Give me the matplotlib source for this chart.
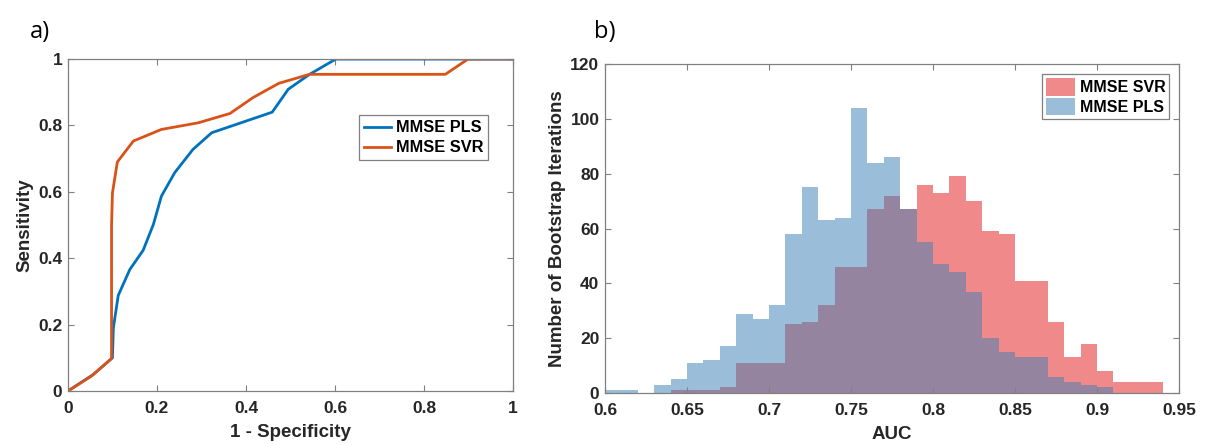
import numpy as np
import matplotlib
matplotlib.use("Agg")
import matplotlib.pyplot as plt

# ROC curves (1 - specificity, sensitivity)
pls_fpr = [0.0, 0.057, 0.1, 0.102, 0.113, 0.139, 0.169, 0.192, 0.21, 0.24,
           0.281, 0.323, 0.459, 0.495, 0.543, 0.602, 1.0]
pls_tpr = [0.0, 0.05, 0.1, 0.19, 0.288, 0.366, 0.424, 0.502, 0.587, 0.658,
           0.728, 0.778, 0.84, 0.909, 0.954, 1.0, 1.0]
svr_fpr = [0.0, 0.053, 0.098, 0.098, 0.1, 0.111, 0.147, 0.21, 0.293, 0.364,
           0.416, 0.474, 0.543, 0.848, 0.899, 1.0]
svr_tpr = [0.0, 0.045, 0.098, 0.5, 0.597, 0.69, 0.753, 0.788, 0.808, 0.836,
           0.884, 0.927, 0.954, 0.954, 1.0, 1.0]

# Bootstrap AUC histograms, bins of width 0.01 starting at 0.60
bin_left = np.round(np.arange(0.60, 0.94, 0.01), 2)
pls_counts = [1, 1, 0, 3, 5, 11, 12, 17, 29, 27, 32, 58, 75, 63, 64, 104, 84,
              86, 67, 55, 47, 44, 37, 20, 15, 13, 13, 6, 4, 3, 2, 0, 0, 0]
svr_counts = [0, 0, 0, 0, 1, 1, 1, 2, 11, 11, 11, 25, 26, 32, 46, 46, 67,
              72, 67, 76, 73, 79, 70, 59, 58, 41, 41, 26, 13, 18, 8, 4, 4, 4]

plt.rcParams["font.family"] = ["Liberation Sans", "DejaVu Sans"]
plt.rcParams["font.weight"] = "bold"
plt.rcParams["axes.labelweight"] = "bold"

fig = plt.figure(figsize=(12.07, 4.45), dpi=100)
ax1 = fig.add_axes([0.0563, 0.1213, 0.3687, 0.746])
ax2 = fig.add_axes([0.5012, 0.1169, 0.4756, 0.739])

spine_col = "#808080"
text_col = "#262626"

# a) ROC curves
ax1.plot(pls_fpr, pls_tpr, color="#0072BD", lw=2.0, label="MMSE PLS")
ax1.plot(svr_fpr, svr_tpr, color="#D95319", lw=2.0, label="MMSE SVR")
ax1.set_xlim(0, 1)
ax1.set_ylim(0, 1)
ax1.set_xticks([0, 0.2, 0.4, 0.6, 0.8, 1])
ax1.set_xticklabels(["0", "0.2", "0.4", "0.6", "0.8", "1"])
ax1.set_yticks([0, 0.2, 0.4, 0.6, 0.8, 1])
ax1.set_yticklabels(["0", "0.2", "0.4", "0.6", "0.8", "1"])
ax1.set_xlabel("1 - Specificity", fontsize=13.5, color=text_col, labelpad=6)
ax1.set_ylabel("Sensitivity", fontsize=13.5, color=text_col, labelpad=3)
leg1 = ax1.legend(loc="upper right", bbox_to_anchor=(0.945, 0.83),
                  fontsize=11.8, frameon=True, fancybox=False,
                  handlelength=1.65, borderpad=0.3, labelspacing=0.3,
                  handletextpad=0.3, borderaxespad=0)
leg1.get_frame().set_edgecolor("#606060")
leg1.get_frame().set_linewidth(0.9)

# b) AUC histograms
overlap = np.minimum(pls_counts, svr_counts)
ax2.bar(bin_left, svr_counts, width=0.01, align="edge", color="#F08A8A",
        linewidth=0, label="MMSE SVR")
ax2.bar(bin_left, pls_counts, width=0.01, align="edge", color="#9ABEDA",
        linewidth=0, label="MMSE PLS")
ax2.bar(bin_left, overlap, width=0.01, align="edge", color="#9484A0",
        linewidth=0)
ax2.set_xlim(0.6, 0.95)
ax2.set_ylim(0, 120)
ax2.set_xticks([0.6, 0.65, 0.7, 0.75, 0.8, 0.85, 0.9, 0.95])
ax2.set_xticklabels(["0.6", "0.65", "0.7", "0.75", "0.8", "0.85", "0.9",
                     "0.95"])
ax2.set_yticks(range(0, 121, 20))
ax2.set_xlabel("AUC", fontsize=13.5, color=text_col, labelpad=6)
ax2.set_ylabel("Number of Bootstrap Iterations", fontsize=13.5,
               color=text_col, labelpad=3)
leg2 = ax2.legend(loc="upper right", fontsize=11.5, frameon=True,
                  fancybox=False, handlelength=1.8, handleheight=1.35,
                  borderpad=0.25, labelspacing=0.12, handletextpad=0.3,
                  borderaxespad=0.6)
leg2.get_frame().set_edgecolor("#606060")
leg2.get_frame().set_linewidth(0.9)

for ax in (ax1, ax2):
    for s in ax.spines.values():
        s.set_color(spine_col)
        s.set_linewidth(0.9)
    ax.tick_params(direction="in", top=True, right=True, length=4,
                   width=0.8, color=spine_col, labelsize=12.5,
                   labelcolor=text_col)
    ax.tick_params(axis="x", pad=7)
    ax.tick_params(axis="y", pad=4)

fig.text(0.025, 0.915, "a)", fontsize=17, fontweight="normal",
         family="Open Sans", color="black")
fig.text(0.492, 0.915, "b)", fontsize=17, fontweight="normal",
         family="Open Sans", color="black")

fig.savefig("out.png", dpi=100)
